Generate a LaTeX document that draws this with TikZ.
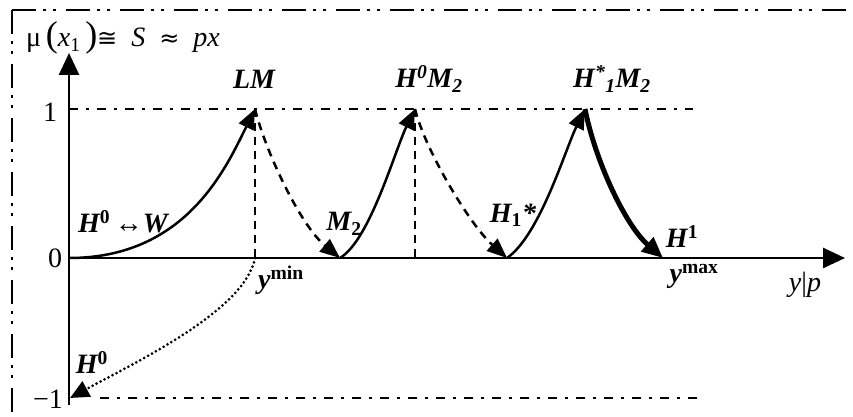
\documentclass[tikz,border=0pt]{standalone}
\usepackage{fontspec}
\setmainfont{Liberation Serif}
\newfontfamily\symfont{DejaVu Sans}
\usepackage{tikz}
\usetikzlibrary{arrows.meta,positioning}

\begin{document}
\begin{tikzpicture}[
  x=1pt,y=-1pt,
  frame/.style={line width=2.8pt,dash pattern=on 24pt off 7pt on 3pt off 7pt on 3pt off 10pt},
  level/.style={line width=2.2pt,dash pattern=on 9pt off 8pt on 2.5pt off 8.5pt},
  axis/.style={line width=2.8pt,-{Triangle[length=22pt,width=20pt]}},
  move/.style={line width=2.5pt,-{Triangle[length=20pt,width=16pt]}},
  back/.style={move,dash pattern=on 8pt off 6pt},
  drop/.style={line width=2.4pt,dash pattern=on 8pt off 6pt},
  every node/.style={font=\fontsize{28}{32}\selectfont,inner sep=0pt},
  lbl/.style={font=\fontsize{28}{32}\selectfont\bfseries\itshape}
]
\useasboundingbox (0,0) rectangle (853,417);

\draw[frame] (12,10) -- (853,10);
\draw[frame] (12,10) -- (12,417);

\coordinate (o) at (69,258);
\coordinate (ytop) at (69,53);
\coordinate (ybot) at (69,405);
\coordinate (xend) at (845,258);
\coordinate (lm) at (255,109);
\coordinate (m2) at (340,258);
\coordinate (hm) at (415,109);
\coordinate (h1s) at (507,258);
\coordinate (hsm) at (585,109);
\coordinate (h1) at (663,258);
\coordinate (ymin) at (255,258);
\coordinate (hbot) at (70,398);

\draw[level] (o |- lm) -- (693,109);
\draw[level] (100,398) -- (700,398);
\draw[drop] (lm) -- (ymin);
\draw[drop] (hm) -- (hm |- o);

\draw[axis] (ybot) -- (ytop);
\draw[axis] (o) -- (xend);

\draw[move] (o) .. controls (185,258) and (225,170) .. (lm);
\draw[back] (lm) .. controls (265,150) and (300,225) .. (m2);
\draw[move] (m2) .. controls (370,240) and (395,150) .. (hm);
\draw[back] (hm) .. controls (425,150) and (470,225) .. (h1s);
\draw[move] (h1s) .. controls (540,235) and (565,150) .. (hsm);
\draw[line width=5pt,-{Triangle[length=21pt,width=18pt]}] (hsm) .. controls (595,160) and (625,225) .. (h1);
\draw[line width=3pt,line cap=round,dash pattern=on 0pt off 4.5pt,-{Triangle[length=19pt,width=17pt]}] (ymin) .. controls (245,310) and (140,360) .. (hbot);

\node[anchor=base west] (mu) at (26,47) {μ\,{\fontsize{36}{36}\selectfont(}\textit{x}\textsubscript{1}\,{\fontsize{36}{36}\selectfont)}{\symfont\fontsize{24}{24}\selectfont≅}\hspace{14pt}\textit{S}\hspace{14pt}{\symfont\fontsize{24}{24}\selectfont≈}\hspace{14pt}\textit{px}};

\node (one) at (50,112) {1};
\node (zero) at (55,258) {0};
\node[anchor=east] (minus) at (63,399) {−1};

\node[lbl] (lmlbl) at (254,79) {LM};
\node[lbl] (hmlbl) at (429,79) {H\textsuperscript{0}M\textsubscript{2}};
\node[lbl] (hsmlbl) at (612,79) {H\textsuperscript{*}\textsubscript{1}M\textsubscript{2}};
\node[lbl] (hwlbl) at (123,222) {H\textsuperscript{\upshape 0}\,{\mdseries\upshape↔}W};
\node[lbl] (m2lbl) at (344,224) {M\textsubscript{\upshape 2}};
\node[lbl] (h1slbl) at (513,215) {H\textsubscript{\upshape 1}*};
\node[lbl] (h1lbl) at (682,237) {H\textsuperscript{\upshape 1}};
\node[lbl] (h0lbl) at (92,362) {H\textsuperscript{\upshape 0}};
\node (ymint) at (281,280) {\textbf{\textit{y}\textsuperscript{min}}};
\node (ymaxt) at (694,276) {\textbf{\textit{y}\textsuperscript{max}}};
\node (yp) at (805,285) {\textit{y}|\textit{p}};
\end{tikzpicture}
\end{document}
